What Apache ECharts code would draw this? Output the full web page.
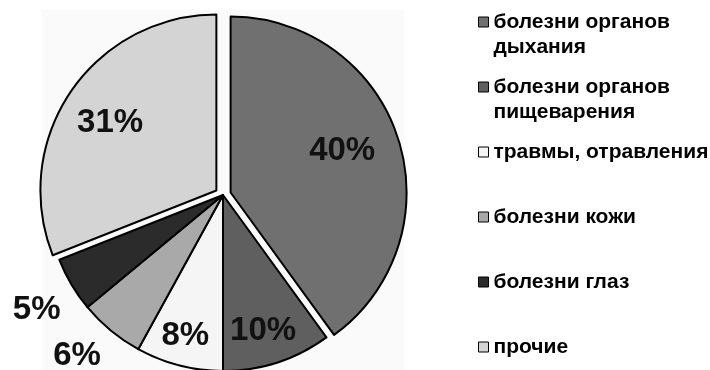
<!DOCTYPE html>
<html>
<head>
<meta charset="utf-8">
<script src="https://cdn.jsdelivr.net/npm/echarts@6/dist/echarts.min.js"></script>
<style>
  html, body { margin: 0; padding: 0; background: #fff; }
  #pie1 { width: 710px; height: 370px; }
</style>
</head>
<body>
<div id="pie1"></div>
<script>
var names = ['болезни органов дыхания', 'болезни органов пищеварения', 'травмы, отравления', 'болезни кожи', 'болезни глаз', 'прочие'];
var values = [40, 10, 8, 6, 5, 31];
var exploded = ['болезни органов дыхания', 'прочие'];
var colors = ['#707070', '#5f5f5f', '#f5f5f5', '#a9a9a9', '#2b2b2b', '#d4d4d4'];

// shift of each percent label from the default inside spot
var labelNudge = [[25, -14], [12, 49], [-15, 53], [-88, 91], [-108, 69], [-31, -16]];

var myChart = echarts.init(document.getElementById('pie1'));

var pieData = names.map(function (n, i) {
    return { name: n, value: values[i], selected: exploded.indexOf(n) >= 0 };
});

var option = {
    animation: false,
    color: colors,
    graphic: [{
        type: 'rect', z: -10, silent: true,
        shape: { x: 42, y: 10, width: 362, height: 360 },
        style: { fill: '#fafafa' }
    }],
    legend: {
        orient: 'vertical',
        left: 478,
        top: -15.5,
        height: 420,
        padding: 0,
        itemGap: -10,
        icon: 'rect',
        itemWidth: 10,
        itemHeight: 10,
        itemStyle: { borderColor: '#000', borderWidth: 1 },
        selectedMode: false,
        // every entry gets three text lines so the marker sits on the first real line
        formatter: function (name) {
            if (name.indexOf('органов ') >= 0) {
                return '\n' + name.replace('органов ', 'органов\n');
            }
            return '\n' + name + '\n';
        },
        textStyle: {
            fontFamily: 'Liberation Sans', fontWeight: 'bold', fontSize: 21,
            lineHeight: 25, color: '#000'
        },
        data: names
    },
    series: [
        {
            name: 'заболевания',
            type: 'pie',
            center: [223, 195],
            radius: 176,
            startAngle: 90,
            clockwise: true,
            selectedMode: 'multiple',
            selectedOffset: 8,
            avoidLabelOverlap: false,
            itemStyle: { borderColor: '#000', borderWidth: 2 },
            select: { itemStyle: { borderColor: '#000', borderWidth: 2 } },
            emphasis: { disabled: true },
            label: {
                show: true,
                position: 'inside',
                formatter: '{c}%',
                fontFamily: 'Liberation Sans',
                fontWeight: 'bold',
                fontSize: 33,
                color: '#111'
            },
            labelLine: { show: false },
            labelLayout: function (params) {
                var s = labelNudge[params.dataIndex];
                return { dx: s[0], dy: s[1] };
            },
            data: pieData
        }
    ]
};

myChart.setOption(option);
</script>
</body>
</html>
